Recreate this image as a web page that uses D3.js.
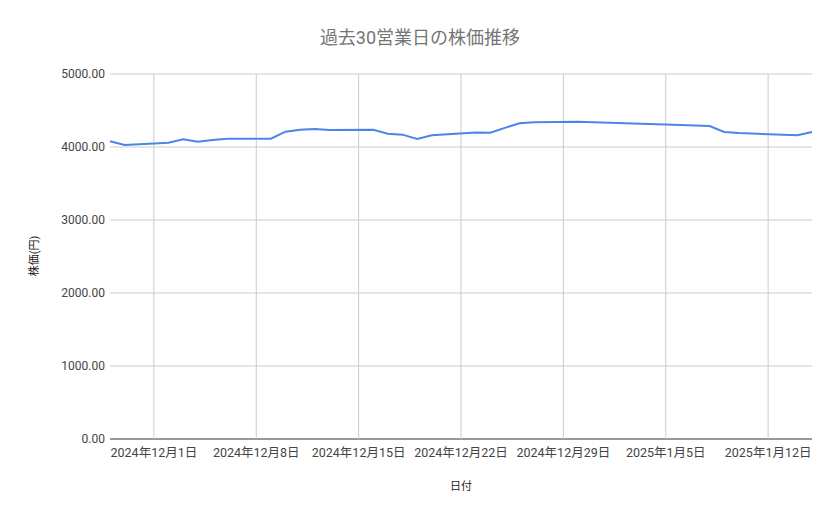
<!DOCTYPE html>
<html><head><meta charset="utf-8">
<script src="https://cdn.jsdelivr.net/npm/d3@7"></script>
<style>body{margin:0;background:#fff;font-family:Roboto,"Noto Sans CJK JP",sans-serif}</style>
</head><body>
<svg id="chart" width="839" height="519"></svg>
<script>
var dates = ['2024-11-28','2024-11-29','2024-12-02','2024-12-03','2024-12-04','2024-12-05','2024-12-06',
  '2024-12-09','2024-12-10','2024-12-11','2024-12-12','2024-12-13','2024-12-16','2024-12-17','2024-12-18',
  '2024-12-19','2024-12-20','2024-12-23','2024-12-24','2024-12-25','2024-12-26','2024-12-27','2024-12-30',
  '2025-01-06','2025-01-07','2025-01-08','2025-01-09','2025-01-10','2025-01-14','2025-01-15']
var prices = [4078,4027,4059,4105,4073,4096,4114,4114,4210,4237,4247,4233,4237,4183,4169,
  4110,4160,4200,4196,4262,4324,4338,4347,4301,4295,4288,4205,4192,4160,4205]
var yTicks = [0,1000,2000,3000,4000,5000]

var parse = d3.timeParse('%Y-%m-%d')
var data = dates.map(function (d, i) { return { date: parse(d), value: prices[i] } })

var svg = d3.select('#chart')
var m = { left: 110, right: 812, top: 74, bottom: 439 }
var x = d3.scaleTime().domain([parse('2024-11-28'), parse('2025-01-15')]).range([m.left, m.right])
var y = d3.scaleLinear().domain([0, 5000]).range([m.bottom, m.top])
var xTicks = d3.timeWeek.every(1).range(parse('2024-12-01'), parse('2025-01-16'))

// grid
svg.append('g').selectAll('line').data(yTicks).enter().append('line')
  .attr('x1', m.left).attr('x2', m.right)
  .attr('y1', function (d) { return y(d) }).attr('y2', function (d) { return y(d) })
  .attr('stroke', function (d) { return d == 0 ? '#333' : '#ccc' }).attr('stroke-width', 1)
svg.append('g').selectAll('line').data(xTicks).enter().append('line')
  .attr('x1', function (d) { return x(d) }).attr('x2', function (d) { return x(d) })
  .attr('y1', m.top).attr('y2', m.bottom)
  .attr('stroke', '#ccc')

// tick labels
svg.append('g').selectAll('text').data(yTicks).enter().append('text')
  .attr('x', m.left - 5).attr('y', function (d) { return y(d) + 4 })
  .attr('text-anchor', 'end').attr('font-size', 12).attr('fill', '#444')
  .text(function (d) { return d3.format('.2f')(d) })
var fmt = function (d) { return d.getFullYear() + '年' + (d.getMonth() + 1) + '月' + d.getDate() + '日' }
svg.append('g').selectAll('text').data(xTicks).enter().append('text')
  .attr('x', function (d) { return x(d) }).attr('y', 457)
  .attr('text-anchor', 'middle').attr('font-size', 12.5).attr('fill', '#444')
  .text(fmt)

// line
svg.append('path').datum(data)
  .attr('fill', 'none').attr('stroke', '#4a86e8').attr('stroke-width', 2)
  .attr('d', d3.line().x(function (d) { return x(d.date) }).y(function (d) { return y(d.value) }))

// titles
svg.append('text').attr('x', 420).attr('y', 44).attr('text-anchor', 'middle')
  .attr('font-size', 18).attr('fill', '#757575').text('過去30営業日の株価推移')
svg.append('text').attr('x', 461).attr('y', 490).attr('text-anchor', 'middle')
  .attr('font-size', 11).attr('fill', '#222').text('日付')
svg.append('text').attr('transform', 'translate(38,256) rotate(-90)').attr('text-anchor', 'middle')
  .attr('font-size', 11).attr('fill', '#222').text('株価(円)')
</script>
</body></html>
